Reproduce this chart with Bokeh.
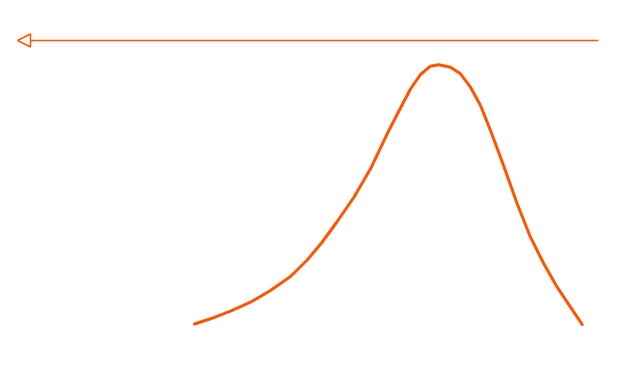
from bokeh.plotting import figure
from bokeh.models import Range1d, Arrow, NormalHead
from bokeh.embed import file_html
from bokeh.resources import INLINE

# Curve values (arbitrary units: x 0..100, y 0..100 at the peak)
curve_x = [0, 4.13, 9.28, 14.44, 19.60, 24.76, 29.07, 32.76, 36.81, 41.09,
           45.40, 49.70, 53.13, 55.71, 58.29, 60.87, 62.94, 66.03, 68.61, 71.19,
           73.77, 76.35, 78.67, 80.22, 83.23, 86.66, 90.10, 93.55, 96.98, 100]
curve_y = [0, 2.01, 4.94, 8.41, 12.92, 18.33, 24.69, 31.25, 39.54, 48.80,
           59.88, 73.38, 83.33, 90.66, 96.26, 99.46, 100, 99.07, 96.53, 91.36,
           84.30, 74.65, 65.39, 59.03, 46.37, 33.49, 23.23, 14.20, 6.48, -0.19]

# Arrow (start -> end, pointing left)
arrow_x_start = 104.2
arrow_x_end = -45.65
arrow_y = 109.38

color = "#ff5500"

p = figure(width=629, height=383, output_backend="svg", toolbar_location=None,
           x_range=Range1d(-50.04, 112.2), y_range=Range1d(-22.96, 124.81),
           min_border=0)
p.axis.visible = False
p.grid.visible = False
p.outline_line_color = None
p.background_fill_color = "white"
p.border_fill_color = "white"

p.line(curve_x, curve_y, line_color=color, line_width=3, line_join="round", line_cap="round")

p.add_layout(Arrow(end=NormalHead(size=13, line_color=color, line_width=1.5, fill_color=None),
                   x_start=arrow_x_start, y_start=arrow_y, x_end=arrow_x_end, y_end=arrow_y,
                   line_color=color, line_width=1.5))

open("out.html", "w").write(file_html(p, INLINE))
